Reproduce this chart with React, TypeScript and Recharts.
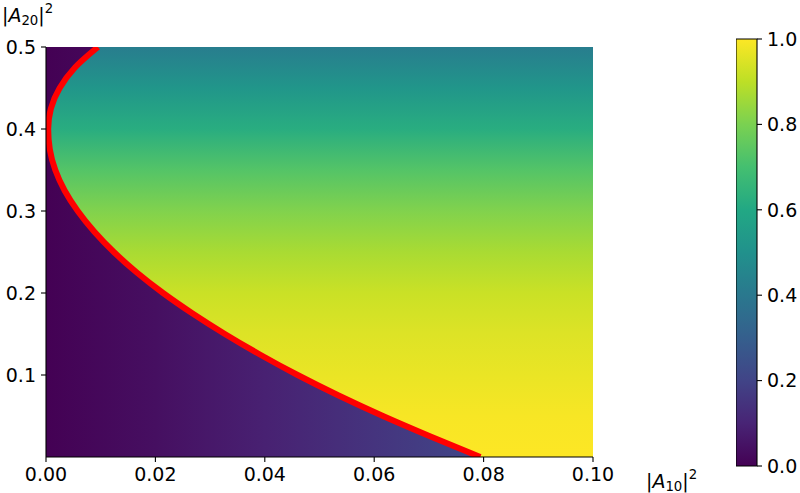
import React from "react";
import { ComposedChart, Area, Line, Bar, XAxis, YAxis } from "recharts";

// boundary curve: |A10|^2 as a function of |A20|^2
const curveY = [0.5, 0.475, 0.45, 0.425, 0.4, 0.375, 0.35, 0.325, 0.3, 0.275, 0.25, 0.225, 0.2, 0.175, 0.15, 0.125, 0.1, 0.075, 0.05, 0.025, 0];
const curveX = [0.0095, 0.0053, 0.0025, 0.0009, 0.0004, 0.0007, 0.0017, 0.0034, 0.0058, 0.0088, 0.0124, 0.0166, 0.0214, 0.0268, 0.0327, 0.0391, 0.046, 0.0535, 0.0616, 0.0703, 0.0794];

// field value right of the curve, read along the right edge
const rightY = [0.5, 0.45, 0.4, 0.35, 0.3, 0.25, 0.2, 0.15, 0.1, 0.05, 0];
const rightVal = [0.42, 0.52, 0.62, 0.73, 0.81, 0.87, 0.92, 0.95, 0.97, 0.99, 1.0];

// field value left of the curve, read along the bottom
const leftX = [0, 0.02, 0.04, 0.06, 0.08];
const leftVal = [0, 0.04, 0.09, 0.15, 0.21];

const xTicks = [0, 0.02, 0.04, 0.06, 0.08, 0.1];
const yTicks = [0.1, 0.2, 0.3, 0.4, 0.5];
const cbTicks = [0, 0.2, 0.4, 0.6, 0.8, 1.0];

const viridis = ["#440154", "#482475", "#414487", "#355f8d", "#2a788e", "#21918c", "#22a884", "#44bf70", "#7ad151", "#bddf26", "#fde725"];

function cmap(v: number) {
  const t = Math.max(0, Math.min(1, v)) * (viridis.length - 1);
  const i = Math.min(Math.floor(t), viridis.length - 2);
  const f = t - i;
  const a = viridis[i], b = viridis[i + 1];
  const ch = (s: string, k: number) => parseInt(s.slice(1 + k * 2, 3 + k * 2), 16);
  const mix = [0, 1, 2].map((k) => Math.round(ch(a, k) + (ch(b, k) - ch(a, k)) * f));
  return `rgb(${mix.join(",")})`;
}

const xMax = Math.max(...curveX);
const data = curveY.map((y, i) => ({ y, x: curveX[i], rest: 0.1 - curveX[i] }));
const cbData = [{ name: "cb", v: 1 }];

const font = "DejaVu Sans";
const tickStyle = { fill: "#000", fontSize: 19, fontFamily: font };
const axisStroke = { stroke: "#000", strokeWidth: 1.1 };

export default function App() {
  return (
    <div style={{ position: "relative", width: 800, height: 493 }}>
      <style>{`body{margin:0}`}</style>
      <ComposedChart
        width={800}
        height={493}
        data={data}
        layout="vertical"
        margin={{ top: 47, right: 207, bottom: 6, left: 6 }}
      >
        <defs>
          <linearGradient id="leftGrad" x1="0" y1="0" x2="1" y2="0">
            {leftX.map((x, i) => (
              <stop key={i} offset={Math.min(1, x / xMax)} stopColor={cmap(leftVal[i])} />
            ))}
          </linearGradient>
          <linearGradient id="rightGrad" x1="0" y1="0" x2="0" y2="1">
            {rightY.map((y, i) => (
              <stop key={i} offset={(0.5 - y) / 0.5} stopColor={cmap(rightVal[i])} />
            ))}
          </linearGradient>
        </defs>
        <XAxis
          type="number"
          dataKey="x"
          domain={[0, 0.1]}
          ticks={xTicks}
          allowDataOverflow
          tickFormatter={(v) => v.toFixed(2)}
          height={30}
          tickSize={5}
          tickMargin={6}
          axisLine={axisStroke}
          tickLine={axisStroke}
          tick={tickStyle}
          interval={0}
        />
        <XAxis xAxisId="top" orientation="top" type="number" domain={[0, 0.1]} height={0} tick={false} tickLine={false} axisLine={axisStroke} />
        <YAxis
          type="number"
          dataKey="y"
          domain={[0, 0.5]}
          ticks={yTicks}
          reversed
          allowDataOverflow
          tickFormatter={(v) => v.toFixed(1)}
          width={40}
          tickSize={5}
          tickMargin={5}
          axisLine={axisStroke}
          tickLine={axisStroke}
          tick={tickStyle}
          interval={0}
        />
        <YAxis yAxisId="right" orientation="right" type="number" domain={[0, 0.5]} width={0} tick={false} tickLine={false} axisLine={axisStroke} />
        <Area dataKey="x" stackId="f" type="monotone" stroke="none" fill="url(#leftGrad)" fillOpacity={1} isAnimationActive={false} />
        <Area dataKey="rest" stackId="f" type="monotone" stroke="none" fill="url(#rightGrad)" fillOpacity={1} isAnimationActive={false} />
        <Line dataKey="x" type="monotone" stroke="#ff0000" strokeWidth={6} dot={false} isAnimationActive={false} />
        <text x={2} y={22} fontFamily={font} fontSize={19} fill="#000">
          |<tspan fontStyle="italic">A</tspan>
          <tspan fontSize={13.3} dy={3}>20</tspan>
          <tspan dy={-3}>|</tspan>
          <tspan fontSize={13.3} dy={-9}>2</tspan>
        </text>
        <text x={646} y={488} fontFamily={font} fontSize={19} fill="#000">
          |<tspan fontStyle="italic">A</tspan>
          <tspan fontSize={13.3} dy={3}>10</tspan>
          <tspan dy={-3}>|</tspan>
          <tspan fontSize={13.3} dy={-9}>2</tspan>
        </text>
      </ComposedChart>
      <div style={{ position: "absolute", left: 736, top: 0 }}>
        <ComposedChart
          width={64}
          height={493}
          data={cbData}
          margin={{ top: 39, right: 0, bottom: 27, left: 0 }}
          barCategoryGap={0}
        >
          <defs>
            <linearGradient id="cbGrad" x1="0" y1="1" x2="0" y2="0">
              {viridis.map((c, i) => (
                <stop key={i} offset={i / (viridis.length - 1)} stopColor={c} />
              ))}
            </linearGradient>
          </defs>
          <XAxis dataKey="name" hide />
          <YAxis
            orientation="right"
            type="number"
            domain={[0, 1]}
            ticks={cbTicks}
            tickFormatter={(v) => v.toFixed(1)}
            width={43}
            tickSize={5}
            tickMargin={5}
            axisLine={false}
            tickLine={axisStroke}
            tick={tickStyle}
            interval={0}
          />
          <Bar dataKey="v" fill="url(#cbGrad)" stroke="#000" strokeWidth={1.1} isAnimationActive={false} />
        </ComposedChart>
      </div>
    </div>
  );
}
